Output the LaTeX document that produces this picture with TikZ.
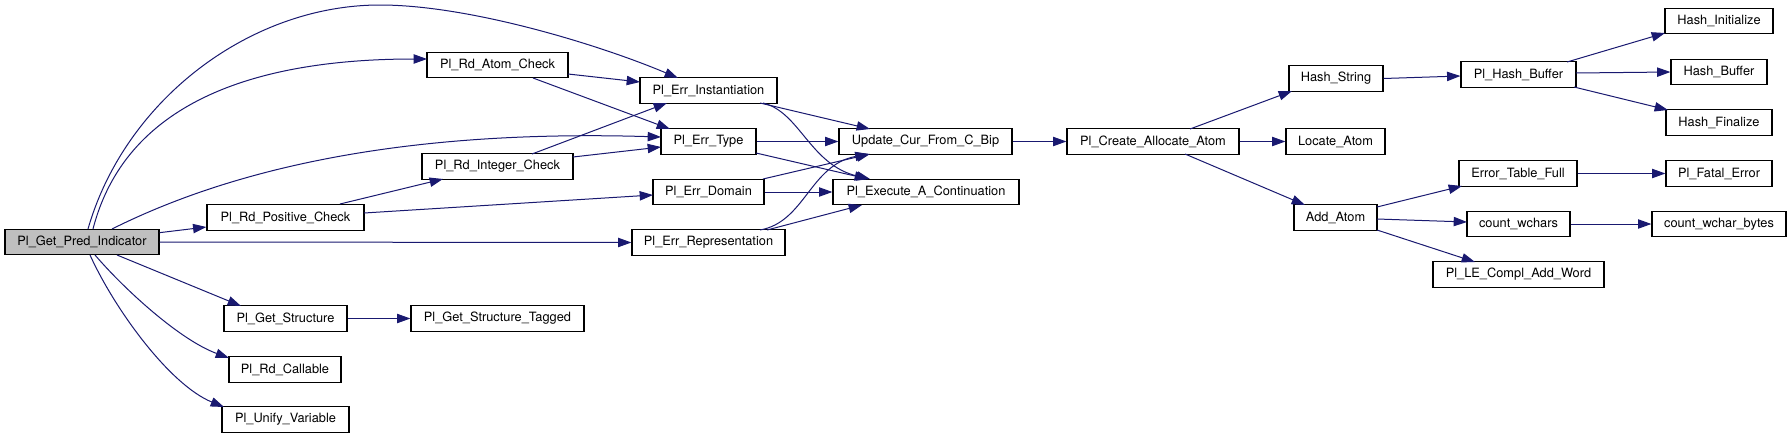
\documentclass[tikz,border=0pt]{standalone}
\usepackage{fontspec}
\setmainfont{TeX Gyre Heros}
\usetikzlibrary{arrows.meta,calc}
\definecolor{edgeblue}{HTML}{191970}
\definecolor{rootgray}{HTML}{BFBFBF}
\begin{document}
\begin{tikzpicture}[x=0.75pt,y=-0.75pt,
  fn/.style={draw=black, line width=0.9pt, fill=white, inner sep=0pt, minimum height=19.2pt,
             font=\fontsize{9.6}{11}\selectfont, text=black},
  root/.style={fn, fill=rootgray},
  call/.style={draw=edgeblue, line width=0.75pt, -{Triangle[length=10pt,width=7pt]}}]
\fill[white] (0,0) rectangle (1792,439);
\useasboundingbox (0,0) rectangle (1792,439);

% nodes
\node[root, minimum width=115.5pt]  (pred)    at (82,242)     {Pl\_Get\_Pred\_Indicator};
\node[fn, minimum width=105.75pt]   (ratom)   at (497.5,65)   {Pl\_Rd\_Atom\_Check};
\node[fn, minimum width=113.25pt]   (rint)    at (497.5,166.5){Pl\_Rd\_Integer\_Check};
\node[fn, minimum width=117.75pt]   (rpos)    at (285.5,217.5){Pl\_Rd\_Positive\_Check};
\node[fn, minimum width=92.25pt]    (gstruct) at (285.5,318.5){Pl\_Get\_Structure};
\node[fn, minimum width=84pt]       (rcall)   at (285,369.5)  {Pl\_Rd\_Callable};
\node[fn, minimum width=95.25pt]    (unify)   at (285.5,419.5){Pl\_Unify\_Variable};
\node[fn, minimum width=129.75pt]   (gstag)   at (497.5,318.5){Pl\_Get\_Structure\_Tagged};
\node[fn, minimum width=102.75pt]   (einst)   at (708.5,90.5) {Pl\_Err\_Instantiation};
\node[fn, minimum width=71.25pt]    (etype)   at (708.5,141.5){Pl\_Err\_Type};
\node[fn, minimum width=83.25pt]    (edom)    at (708.5,192)  {Pl\_Err\_Domain};
\node[fn, minimum width=114.75pt]   (erep)    at (708.5,242.5){Pl\_Err\_Representation};
\node[fn, minimum width=129.75pt]   (upd)     at (925.5,141.5){Update\_Cur\_From\_C\_Bip};
\node[fn, minimum width=139.5pt]    (exec)    at (926,192)    {Pl\_Execute\_A\_Continuation};
\node[fn, minimum width=129pt]      (create)  at (1153,141.5) {Pl\_Create\_Allocate\_Atom};
\node[fn, minimum width=70.5pt]     (hstr)    at (1336,78.5)  {Hash\_String};
\node[fn, minimum width=74.25pt]    (locate)  at (1335.5,141.5){Locate\_Atom};
\node[fn, minimum width=62.25pt]    (addatom) at (1335.5,217.5){Add\_Atom};
\node[fn, minimum width=86.25pt]    (phb)     at (1518.5,74.5){Pl\_Hash\_Buffer};
\node[fn, minimum width=88.5pt]     (etf)     at (1518,173.5) {Error\_Table\_Full};
\node[fn, minimum width=77.25pt]    (cwc)     at (1518.5,224) {count\_wchars};
\node[fn, minimum width=128.25pt]   (le)      at (1518.5,274.5){Pl\_LE\_Compl\_Add\_Word};
\node[fn, minimum width=81pt]       (hinit)   at (1719,21)    {Hash\_Initialize};
\node[fn, minimum width=72pt]       (hbuf)    at (1719,72)    {Hash\_Buffer};
\node[fn, minimum width=79.5pt]     (hfin)    at (1719,122.5) {Hash\_Finalize};
\node[fn, minimum width=79.5pt]     (fatal)   at (1719,173.5) {Pl\_Fatal\_Error};
\node[fn, minimum width=100.5pt]    (cwb)     at (1719,224)   {count\_wchar\_bytes};

% edges from Pl_Get_Pred_Indicator
\draw[call] ($(pred)+(6,-13)$) .. controls (125,100) and (250,5) .. (380,5)
            .. controls (470,5) and (600,45) .. ($(einst)+(-30.5,-12.5)$);
\draw[call] ($(pred)+(11,-13)$) .. controls (125,105) and (250,59) .. ($(ratom)+(-70.5,-6)$);
\draw[call] ($(pred)+(30,-13)$) .. controls (250,160) and (430,130) .. ($(etype)+(-47.5,-4.5)$);
\draw[call] (pred) -- (rpos);
\draw[call] (pred.east) -- (erep.west);
\draw[call] ($(pred)+(35,13)$) -- ($(gstruct)+(-44.5,-12.5)$);
\draw[call] ($(pred)+(13,13)$) .. controls (125,290) and (180,340) .. ($(rcall)+(-56,-11.5)$);
\draw[call] ($(pred)+(8,13)$) .. controls (115,310) and (170,385) .. ($(unify)+(-61.5,-12.5)$);

% second rank
\draw[call] ($(ratom)+(70.5,9)$) -- ($(einst)+(-68.5,-8.5)$);
\draw[call] ($(ratom)+(35.5,13)$) -- ($(etype)+(-38.5,-12.5)$);
\draw[call] ($(rint)+(34.5,-12.5)$) -- ($(einst)+(-41.5,12.5)$);
\draw[call] ($(rint)+(75.5,-9.5)$) -- ($(etype)+(-47.5,5.5)$);
\draw[call] ($(rpos)+(54.5,-13.5)$) -- ($(rint)+(-54.5,12.5)$);
\draw[call] ($(rpos)+(78.5,-4.5)$) -- ($(edom)+(-55.5,3)$);
\draw[call] (gstruct) -- (gstag);

% error functions
\draw[call] ($(einst)+(51.5,12.5)$) -- ($(upd)+(-55.5,-12.5)$);
\draw[call] ($(einst)+(54.5,12.5)$) .. controls (800,112) and (810,165) .. ($(exec)+(-56,-13)$);
\draw[call] (etype) -- (upd);
\draw[call] ($(etype)+(47.5,11.5)$) -- ($(exec)+(-58,-13)$);
\draw[call] ($(edom)+(54.5,-13)$) -- ($(upd)+(-55.5,12.5)$);
\draw[call] (edom) -- (exec);
\draw[call] ($(erep)+(51.5,-12.5)$) .. controls (805,222) and (810,165) .. ($(upd)+(-57,12.5)$);
\draw[call] ($(erep)+(58.5,-12.5)$) -- ($(exec)+(-64,13)$);

% atom creation
\draw[call] (upd) -- (create);
\draw[call] ($(create)+(37,-12.5)$) -- ($(hstr)+(-44,12.5)$);
\draw[call] (create) -- (locate);
\draw[call] ($(create)+(32,12.5)$) -- ($(addatom)+(-30.5,-12.5)$);
\draw[call] (hstr.east) -- ($(phb.west)+(0,1.5)$);
\draw[call] ($(phb)+(48.5,-12.5)$) -- ($(hinit)+(-54,12)$);
\draw[call] ($(phb)+(57.5,-1.5)$) -- (hbuf.west);
\draw[call] ($(phb)+(55.5,12.5)$) -- ($(hfin)+(-51,-12.5)$);
\draw[call] ($(addatom)+(41.5,-10.5)$) -- ($(etf)+(-56,12.5)$);
\draw[call] ($(addatom)+(41.5,1.5)$) -- ($(cwc)+(-51.5,-2)$);
\draw[call] ($(addatom)+(41.5,12.5)$) -- ($(le)+(-43.5,-12.5)$);
\draw[call] (etf) -- (fatal);
\draw[call] (cwc) -- (cwb);
\end{tikzpicture}
\end{document}
